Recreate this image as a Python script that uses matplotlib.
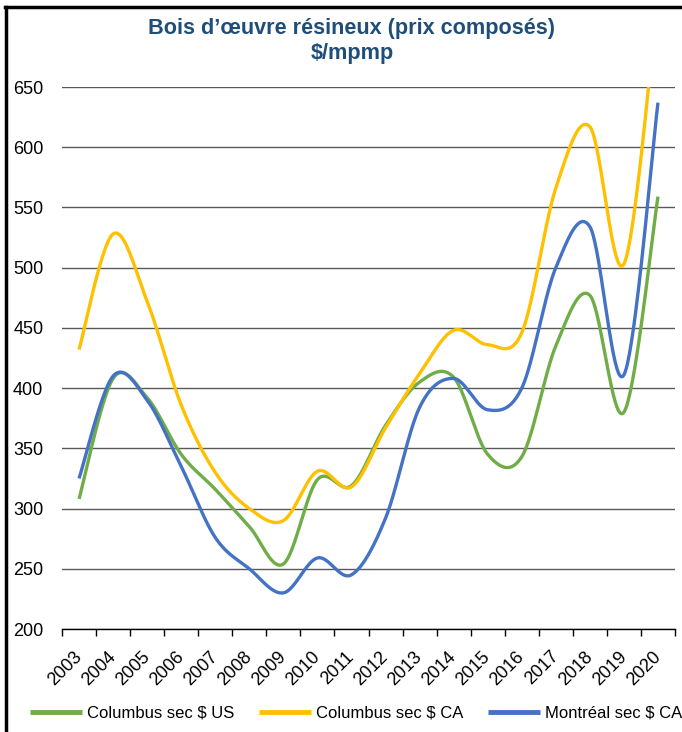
import numpy as np
import matplotlib
matplotlib.use("Agg")
import matplotlib.pyplot as plt
from matplotlib import font_manager
from matplotlib.lines import Line2D

years = [str(y) for y in range(2003, 2021)]
columbus_us = [308, 408, 392, 345, 316, 285, 254, 324, 319, 369, 405, 409, 345, 343, 435, 477, 380, 559]
columbus_ca = [432, 528, 472, 386, 330, 300, 290, 331, 318, 367, 412, 448, 436, 446, 566, 617, 503, 725]
montreal_ca = [325, 410, 390, 335, 276, 250, 230, 259, 245, 292, 384, 408, 382, 400, 500, 534, 411, 637]

series_names = ["Columbus sec $ US", "Columbus sec $ CA", "Montréal sec $ CA"]
series_colors = ["#70AD47", "#FFC000", "#4472C4"]

names = {f.name for f in font_manager.fontManager.ttflist}
fam = "Liberation Sans Narrow" if "Liberation Sans Narrow" in names else "Liberation Sans"
plt.rcParams["font.family"] = [fam, "DejaVu Sans"]


def smooth(xs, ys, n=40):
    xs = np.asarray(xs, float)
    ys = np.asarray(ys, float)
    P = np.column_stack([xs, ys])
    Pe = np.vstack([P[0], P, P[-1]])
    out = []
    for i in range(len(P) - 1):
        p0, p1, p2, p3 = Pe[i], Pe[i + 1], Pe[i + 2], Pe[i + 3]
        c1 = p1 + (p2 - p0) / 6.0
        c2 = p2 - (p3 - p1) / 6.0
        t = np.linspace(0, 1, n)[:, None]
        b = ((1 - t) ** 3) * p1 + 3 * ((1 - t) ** 2) * t * c1 + 3 * (1 - t) * t ** 2 * c2 + t ** 3 * p2
        out.append(b if i == 0 else b[1:])
    out = np.vstack(out)
    return out[:, 0], out[:, 1]


fig = plt.figure(figsize=(6.82, 7.32), dpi=100)
ax = fig.add_axes([62 / 682, 1 - 629 / 732, (675 - 62) / 682, (629 - 87) / 732])

x = np.arange(len(years))
for vals, name, col in zip([columbus_us, columbus_ca, montreal_ca], series_names, series_colors):
    sx, sy = smooth(x, vals)
    ax.plot(sx, sy, color=col, lw=2.4, label=name, solid_capstyle="butt", zorder=3)

ax.set_xlim(-0.5, len(years) - 0.5)
ax.set_ylim(200, 650)
ax.set_yticks(range(200, 651, 50))
ax.yaxis.grid(True, color="#595959", lw=1.0)
ax.set_axisbelow(True)
for s in ["left", "right", "top"]:
    ax.spines[s].set_visible(False)
ax.spines["bottom"].set_color("#000000")
ax.spines["bottom"].set_linewidth(1.0)
ax.tick_params(axis="y", length=0, pad=13.5, labelsize=13, labelcolor="#000000")

ax.set_xticks(x)
ax.set_xticklabels(years, rotation=45, ha="right", va="center", rotation_mode="anchor", fontsize=13)
ax.tick_params(axis="x", which="major", length=0, pad=18)
ax.set_xticks(np.arange(-0.5, len(years), 1.0), minor=True)
ax.tick_params(axis="x", which="minor", length=5, width=1, color="#000000", direction="out")

fig.text(352 / 682, 1 - 41 / 732, "Bois d\u2019œuvre résineux (prix composés)\n$/mpmp", ha="center", va="center",
         fontsize=15.6, fontweight="bold", color="#1F4E79", linespacing=1.3)

leg = fig.legend(loc="center", bbox_to_anchor=(356 / 682, 1 - 713 / 732), ncol=3, frameon=False,
                 fontsize=12, handlelength=3.1, handletextpad=0.3, columnspacing=1.5,
                 borderpad=0, borderaxespad=0)
for h in leg.legend_handles:
    h.set_linewidth(3.5)

fig.add_artist(Line2D([5 / 682, 1], [1 - 6.5 / 732, 1 - 6.5 / 732], color="black", lw=2.5, transform=fig.transFigure))
fig.add_artist(Line2D([6 / 682, 6 / 682], [0, 1 - 6.5 / 732], color="black", lw=2.5, transform=fig.transFigure))

fig.savefig("out.png", dpi=100)
